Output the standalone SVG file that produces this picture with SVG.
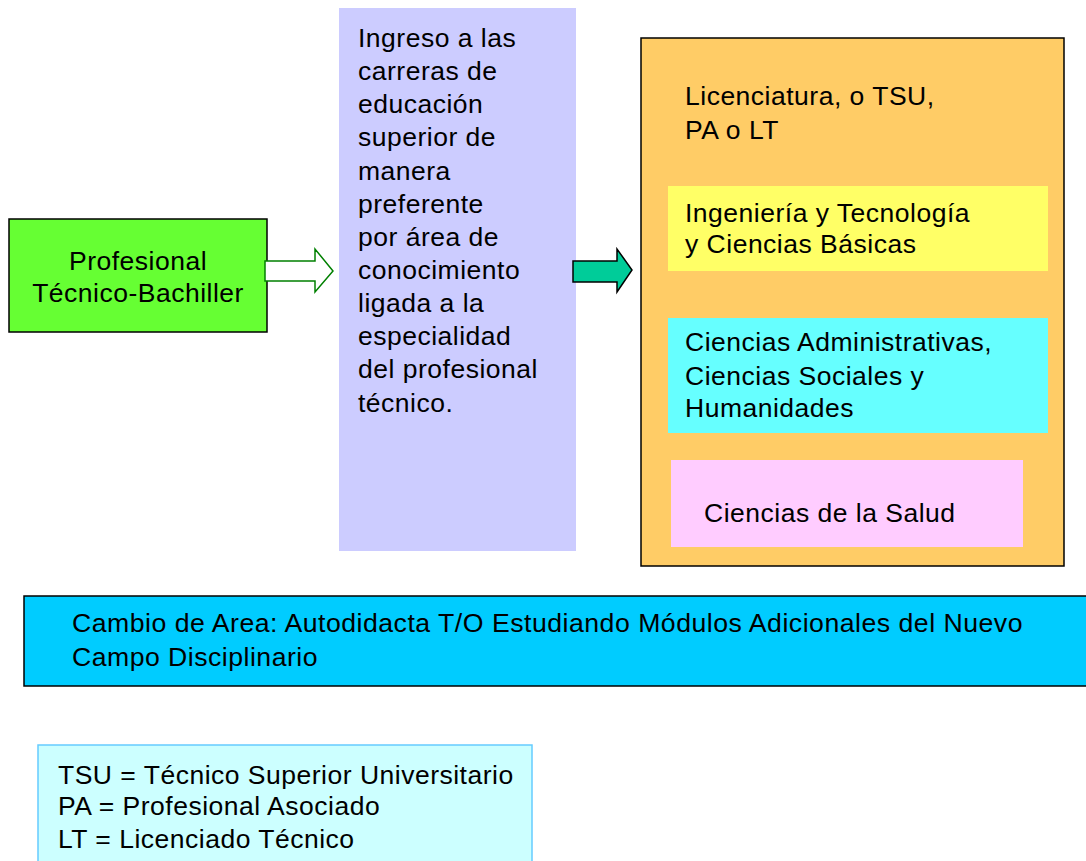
<svg xmlns="http://www.w3.org/2000/svg" width="1086" height="861" viewBox="0 0 1086 861">
<style>
text{font-family:"Liberation Sans",Arial,sans-serif;font-size:26.5px;letter-spacing:0.5px;fill:#000}
.box{stroke:#000;stroke-width:1.5}
</style>
<rect width="1086" height="861" fill="#fff"/>
<g id="profesional">
<rect class="box" x="9" y="219" width="258" height="113" fill="#66FF33"/>
<text x="138" y="270" text-anchor="middle">Profesional</text>
<text x="138" y="302" text-anchor="middle">Técnico-Bachiller</text>
</g>
<g id="ingreso">
<rect x="339" y="8" width="237" height="543" fill="#CCCCFF"/>
<text x="358" y="47">Ingreso a las</text>
<text x="358" y="80">carreras de</text>
<text x="358" y="113">educación</text>
<text x="358" y="146">superior de</text>
<text x="358" y="180">manera</text>
<text x="358" y="213">preferente</text>
<text x="358" y="246">por área de</text>
<text x="358" y="279">conocimiento</text>
<text x="358" y="312">ligada a la</text>
<text x="358" y="345">especialidad</text>
<text x="358" y="378">del profesional</text>
<text x="358" y="412">técnico.</text>
</g>
<g id="carreras">
<rect class="box" x="641" y="38" width="423" height="528" fill="#FFCC66"/>
<text x="685" y="105">Licenciatura, o TSU,</text>
<text x="685" y="139">PA o LT</text>
</g>
<g id="ingenieria">
<rect x="668" y="186" width="380" height="85" fill="#FFFF66"/>
<text x="685" y="222">Ingeniería y Tecnología</text>
<text x="685" y="253">y Ciencias Básicas</text>
</g>
<g id="administrativas">
<rect x="668" y="318" width="380" height="115" fill="#66FFFF"/>
<text x="685" y="351">Ciencias Administrativas,</text>
<text x="685" y="385">Ciencias Sociales y</text>
<text x="685" y="417">Humanidades</text>
</g>
<g id="salud">
<rect x="671" y="460" width="352" height="87" fill="#FFCCFF"/>
<text x="704" y="522">Ciencias de la Salud</text>
</g>
<g id="cambio">
<rect class="box" x="24" y="596" width="1070" height="90" fill="#00CCFF"/>
<text x="72" y="632" textLength="951" lengthAdjust="spacingAndGlyphs">Cambio de Area: Autodidacta T/O Estudiando Módulos Adicionales del Nuevo</text>
<text x="72" y="666" textLength="246" lengthAdjust="spacingAndGlyphs">Campo Disciplinario</text>
</g>
<g id="leyenda">
<rect x="38" y="745" width="494" height="130" fill="#CCFFFF" stroke="#66CCFF" stroke-width="1.5"/>
<text x="58" y="784">TSU = Técnico Superior Universitario</text>
<text x="58" y="815">PA = Profesional Asociado</text>
<text x="58" y="848">LT = Licenciado Técnico</text>
</g>
<g id="connectors">
<polygon points="265,261 315,261 315,249 333,271 315,292 315,281 265,281" fill="#fff" stroke="#008000" stroke-width="1.5"/>
<polygon points="573,261 617,261 617,249 632,270 617,292 617,282 573,282" fill="#00CC99" stroke="#000" stroke-width="1.5"/>
</g>
</svg>
